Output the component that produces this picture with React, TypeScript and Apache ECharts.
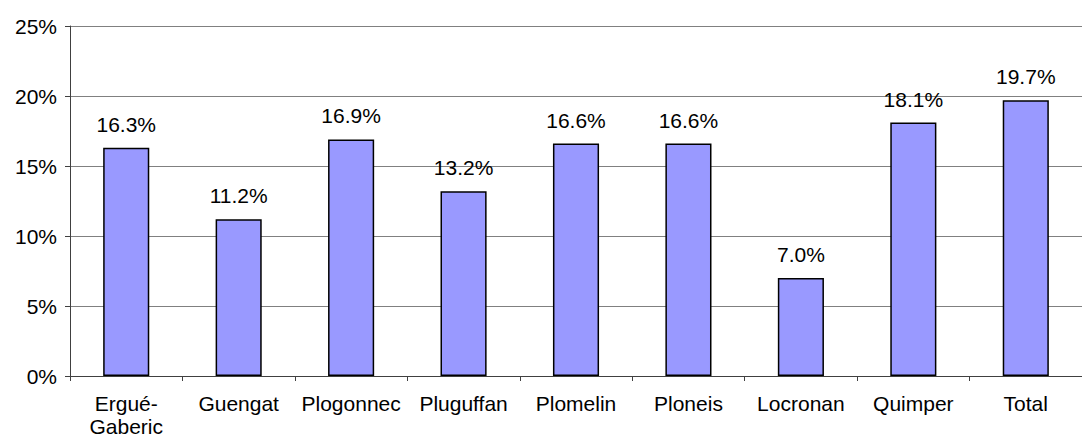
import React, { useEffect, useRef } from "react";
import * as echarts from "echarts";

const categories = ["Ergué-\nGaberic", "Guengat", "Plogonnec", "Pluguffan", "Plomelin", "Ploneis", "Locronan", "Quimper", "Total"];
const values = [16.3, 11.2, 16.9, 13.2, 16.6, 16.6, 7.0, 18.1, 19.7];
const yTicks = [0, 5, 10, 15, 20, 25];

export default function App() {
  const ref = useRef<HTMLDivElement>(null);
  useEffect(() => {
    if (!ref.current) return;
    const chart = echarts.init(ref.current, undefined, { renderer: "svg" });
    const font = "Liberation Sans, Arial, sans-serif";
    chart.setOption({
      animation: false,
      backgroundColor: "#ffffff",
      grid: { left: 70, right: -11, top: 26, bottom: 68, containLabel: false },
      xAxis: {
        type: "category",
        data: categories,
        axisLine: { lineStyle: { color: "#404040", width: 1 } },
        axisTick: { show: true, length: 5, alignWithLabel: false, lineStyle: { color: "#404040" } },
        axisLabel: { color: "#000", fontFamily: font, fontSize: 21, margin: 16, lineHeight: 23, interval: 0 },
      },
      yAxis: {
        type: "value",
        min: yTicks[0],
        max: yTicks[yTicks.length - 1],
        interval: 5,
        axisLine: { show: true, lineStyle: { color: "#404040", width: 1 } },
        axisTick: { show: true, length: 5, lineStyle: { color: "#404040" } },
        axisLabel: { color: "#000", fontFamily: font, fontSize: 21, margin: 13, formatter: (v: number) => v + "%" },
        splitLine: { show: true, lineStyle: { color: "#808080", width: 1 } },
      },
      series: [
        {
          type: "bar",
          data: values,
          barWidth: "41%",
          itemStyle: { color: "#9999FF", borderColor: "#000", borderWidth: 1.5 },
          label: {
            show: true,
            position: "top",
            distance: 13,
            color: "#000",
            fontFamily: font,
            fontSize: 21,
            formatter: (p: any) => p.value.toFixed(1) + "%",
          },
        },
      ],
    });
    return () => chart.dispose();
  }, []);
  return <div ref={ref} style={{ position: "fixed", left: 0, top: 0, width: 1082, height: 444 }} />;
}
